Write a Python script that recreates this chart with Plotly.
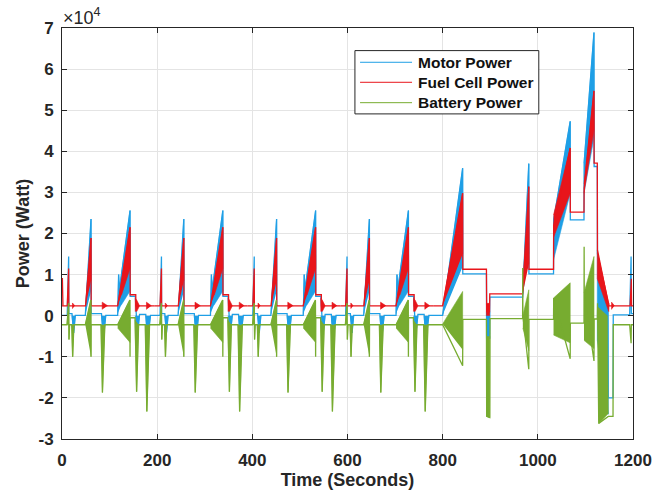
import plotly.graph_objects as go

# ---------------- data ----------------
# times in seconds, powers in units of 1e4 W (axis shows x10^4)
UNIT = 1e4
X_TICKS = [0, 200, 400, 600, 800, 1000, 1200]
Y_TICKS = [-3, -2, -1, 0, 1, 2, 3, 4, 5, 6, 7]
ECE_STARTS = [0, 195, 390, 585]          # four repeated urban cycles

# ----- one urban cycle (relative time) -----
ECE_MOTOR_T = [0, 11, 14, 14.3, 21, 24.5, 28, 49, 61, 61.3, 83, 87, 92, 117, 119, 120.5, 143, 143.3, 154, 158.5, 163, 176, 180, 186, 195]
ECE_MOTOR_P = [0.01, 0.01, 1.44, 0.05, 0.05, -0.42, 0.01, 0.01, 2.35, 0.05, 0.05, -0.55, 0.01, 0.01, 1.0, 0.6, 2.56, 0.47, 0.47, -0.47, 0.03, 0.03, -0.59, 0.01, 0.01]
ECE_MOTOR_FILL_T = [49.5, 61, 61, None, 117, 119, 121, 143, 143, 124, None, 21, 24.5, 28, None, 83, 87, 92, None, 154, 158.5, 163, None, 176, 180, 186]
ECE_MOTOR_FILL_P = [0.05, 2.35, 0.6, None, 0.05, 1.0, 0.7, 2.56, 0.6, 0.25, None, 0.0, -0.42, 0.0, None, 0.0, -0.55, 0.0, None, 0.0, -0.47, 0.0, None, 0.0, -0.59, 0.0]

ECE_FC_T = [0, 11, 14, 14.3, 49.5, 61, 61.3, 117, 143, 143.3, 155, 155.3, 195]
ECE_FC_P = [0.24, 0.24, 1.15, 0.24, 0.24, 1.89, 0.24, 0.24, 2.15, 0.51, 0.51, 0.24, 0.24]
ECE_FC_FILL_T = [49.5, 61, 61, None, 117, 143, 143, 125, None, 22, 22, 27, None, 84.5, 84.5, 96, None, 154, 154, 157, 163, 157, None, 177.5, 177.5, 188]
ECE_FC_FILL_P = [0.24, 1.89, 0.85, None, 0.24, 2.15, 1.15, 0.5, None, 0.17, 0.31, 0.24, None, 0.15, 0.33, 0.24, None, 0.1, 0.42, 0.38, 0.24, 0.1, None, 0.15, 0.33, 0.24]
FC_START_T = [0, 0.8, 2.0]
FC_START_P = [0.9, 0.9, 0.24]

ECE_BAT_T = [0, 10.5, 13.9, 14.7, 16, 20.5, 22.4, 25, 49, 60.5, 61, 61.3, 82, 85, 90, 117, 142.5, 143, 143.3, 153.5, 156.8, 161, 175, 178.3, 184, 195]
ECE_BAT_P = [-0.22, -0.22, 0.3, -0.58, -0.22, -0.22, -1.0, -0.22, -0.22, 0.38, -1.0, -0.22, -0.22, -1.87, -0.22, -0.22, 0.38, -1.0, -0.05, -0.05, -1.85, -0.22, -0.22, -2.33, -0.22, -0.22]
ECE_BAT_FILL_T = [10.5, 13.9, 14.7, 16, None, 20.5, 22.4, 25, None, 49, 60.5, 61, 61, None, 82, 85, 90, None, 117, 142.5, 143, 143, 117, None, 153.5, 156.8, 161, None, 175, 178.3, 184]
ECE_BAT_FILL_P = [-0.22, 0.3, -0.58, -0.22, None, -0.22, -1.0, -0.22, None, -0.22, 0.38, 0.38, -1.0, None, -0.22, -1.87, -0.22, None, -0.22, 0.38, 0.38, -0.65, -0.3, None, -0.1, -1.85, -0.22, None, -0.22, -2.33, -0.22]

# ----- extra-urban part (absolute time) -----
EUDC_MOTOR_T = [780, 800, 842, 842.3, 892, 892.5, 898.5, 899, 968, 981, 981.3, 1033, 1033.3, 1068, 1068.3, 1097, 1097.3, 1118, 1118.3, 1125, 1125.3, 1147, 1148, 1158, 1158.5, 1193, 1196, 1196.5, 1200]
EUDC_MOTOR_P = [0.01, 0.01, 3.59, 1.02, 1.02, -0.55, -0.55, 0.45, 0.45, 3.7, 1.02, 1.02, 2.33, 4.73, 2.33, 2.33, 3.71, 6.89, 3.63, 3.63, 1.5, 0.3, -2.0, -2.0, 0.02, 0.02, 1.44, 0.05, 0.05]
EUDC_MOTOR_FILL_T = [800, 842, 842, None, 892, 892, 899, 899, None, 968, 981, 981, None, 1033, 1068, 1068, 1033, None, 1097, 1118, 1118, 1097, None, 1125, 1125, 1148, 1148]
EUDC_MOTOR_FILL_P = [0.02, 3.59, 1.2, None, 0.1, -0.55, -0.55, 0.1, None, 0.45, 3.7, 1.5, None, 2.33, 4.73, 2.98, 1.36, None, 3.71, 6.89, 4.33, 2.98, None, 1.6, -0.6, -2.4, 0.3]

EUDC_FC_T = [780, 800, 842, 842.3, 892, 892.5, 898.5, 899, 968, 981, 981.3, 1033, 1033.3, 1068, 1068.3, 1097, 1097.3, 1118, 1118.3, 1125, 1125.3, 1149, 1194, 1196.5, 1197, 1200]
EUDC_FC_P = [0.24, 0.24, 2.98, 1.13, 1.13, 0.1, 0.1, 0.53, 0.53, 3.14, 1.13, 1.13, 2.2, 4.08, 2.52, 2.52, 3.1, 5.47, 3.71, 3.71, 1.6, 0.24, 0.24, 0.9, 0.24, 0.24]
EUDC_FC_FILL_T = [800, 842, 842, None, 892, 892, 898.5, 898.5, None, 968, 981, 981, None, 1033, 1068, 1068, 1033, None, 1097, 1118, 1118, 1097, None, 1125, 1125, 1149, 1150, None, 1155, 1155, 1161]
EUDC_FC_FILL_P = [0.24, 2.98, 1.5, None, 0.0, 0.3, 0.3, 0.0, None, 0.53, 3.14, 1.25, None, 2.45, 4.08, 2.98, 1.9, None, 3.2, 5.47, 4.52, 2.98, None, 1.6, 0.9, 0.1, 0.3, None, 0.15, 0.33, 0.24]

EUDC_BAT_T = [780, 800, 842, 842.3, 892, 892.5, 899, 899.5, 968, 968.3, 968.6, 981, 981.3, 1033, 1033.3, 1068, 1068.3, 1097, 1097.3, 1097.6, 1118, 1118.3, 1125, 1125.5, 1128, 1148, 1158, 1158.5, 1193, 1196, 1196.5, 1200]
EUDC_BAT_P = [-0.22, -0.22, -1.22, -0.09, -0.09, -2.45, -2.48, -0.07, -0.07, 1.16, 0.0, -1.3, -0.09, -0.09, 0.43, -1.05, -0.18, -0.18, 1.68, 0.55, -1.1, -0.08, -0.08, 0.3, -2.62, -2.45, -2.45, -0.22, -0.22, -0.67, -0.22, -0.22]
EUDC_BAT_FILL_T = [800, 842, 842, None, 892.5, 892.5, 899, 899, None, 968.5, 981, 981, 968.5, None, 1033, 1068, 1068, 1033, None, 1097, 1118, 1118, 1097, None, 1125.5, 1146, 1148, 1128]
EUDC_BAT_FILL_P = [-0.2, 0.59, -0.83, None, -0.5, -2.45, -2.48, -0.5, None, 0.0, 0.63, -0.85, -0.3, None, 0.43, 0.8, -0.66, -0.47, None, 0.55, 1.44, -0.8, -0.6, None, 0.22, 0.0, -2.38, -2.62]

NAMES = ["Motor Power", "Fuel Cell Power", "Battery Power"]
COLORS = ["#1f9fe6", "#e8151b", "#77ac30"]


def scale(v):
    return None if v is None else v * UNIT


def build(tpl_t, tpl_p, eudc_t, eudc_p, gaps, pre_t=None, pre_p=None):
    xs, ys = [], []
    if pre_t:
        xs += list(pre_t)
        ys += [scale(v) for v in pre_p]
    for k, s in enumerate(ECE_STARTS):
        if gaps and (k or pre_t):
            xs.append(None)
            ys.append(None)
        xs += [None if t is None else t + s for t in tpl_t]
        ys += [scale(v) for v in tpl_p]
    if gaps:
        xs.append(None)
        ys.append(None)
    xs += list(eudc_t)
    ys += [scale(v) for v in eudc_p]
    return xs, ys


series = [
    (build(ECE_MOTOR_FILL_T, ECE_MOTOR_FILL_P, EUDC_MOTOR_FILL_T, EUDC_MOTOR_FILL_P, True),
     build(ECE_MOTOR_T, ECE_MOTOR_P, EUDC_MOTOR_T, EUDC_MOTOR_P, False)),
    (build(ECE_FC_FILL_T, ECE_FC_FILL_P, EUDC_FC_FILL_T, EUDC_FC_FILL_P, True),
     build(ECE_FC_T, ECE_FC_P, EUDC_FC_T, EUDC_FC_P, True, FC_START_T, FC_START_P)),
    (build(ECE_BAT_FILL_T, ECE_BAT_FILL_P, EUDC_BAT_FILL_T, EUDC_BAT_FILL_P, True),
     build(ECE_BAT_T, ECE_BAT_P, EUDC_BAT_T, EUDC_BAT_P, False)),
]

fig = go.Figure()
for (fill, line), name, col in zip(series, NAMES, COLORS):
    fig.add_trace(go.Scatter(x=fill[0], y=fill[1], mode="lines", fill="toself",
                             fillcolor=col, line=dict(color=col, width=0.6),
                             showlegend=False, hoverinfo="skip"))
    fig.add_trace(go.Scatter(x=line[0], y=line[1], mode="lines", name=name,
                             line=dict(color=col, width=1.3), showlegend=False,
                             connectgaps=False))

# ----- legend drawn as box + sample lines + text (paper coordinates) -----
LEG_X0, LEG_X1, LEG_Y0, LEG_Y1 = 0.513, 0.835, 0.791, 0.945
LEG_ROWS = [0.9166, 0.8679, 0.8183]
LEG_LINE_X = [0.522, 0.613]
LEG_TEXT_X = 0.620

shapes = [dict(type="rect", xref="paper", yref="paper", x0=LEG_X0, x1=LEG_X1,
               y0=LEG_Y0, y1=LEG_Y1, line=dict(color="#262626", width=1),
               fillcolor="white", layer="above")]
annotations = []
for name, col, yr in zip(NAMES, COLORS, LEG_ROWS):
    shapes.append(dict(type="line", xref="paper", yref="paper", x0=LEG_LINE_X[0],
                       x1=LEG_LINE_X[1], y0=yr, y1=yr, line=dict(color=col, width=1),
                       layer="above"))
    annotations.append(dict(text=name, xref="paper", yref="paper", x=LEG_TEXT_X, y=yr,
                            xanchor="left", yanchor="middle", showarrow=False,
                            font=dict(size=15.5, weight="bold", color="#111111")))
annotations.append(dict(text="\u00d710<sup>4</sup>", xref="paper", yref="paper",
                        x=-0.002, y=1.0, xanchor="left", yanchor="bottom", showarrow=False,
                        font=dict(size=18, color="#262626"), yshift=-2))

axis_common = dict(
    ticks="inside", ticklen=5, tickcolor="#262626", showline=True,
    linecolor="#262626", linewidth=1, mirror="ticks", showgrid=True,
    gridcolor="#e4e4e4", gridwidth=1, zeroline=False, automargin=False,
    tickfont=dict(size=17, weight="bold", color="#262626"),
)

fig.update_layout(
    width=654, height=490,
    margin=dict(l=62, r=21, t=28, b=51),
    paper_bgcolor="white", plot_bgcolor="white",
    font=dict(family="Arial, 'Liberation Sans', sans-serif", color="#262626"),
    showlegend=False,
    xaxis=dict(range=[0, 1200], tickvals=X_TICKS, ticklabelstandoff=6,
               title=dict(text="Time (Seconds)", font=dict(size=18, weight="bold", color="#262626"), standoff=6),
               **axis_common),
    yaxis=dict(range=[-3 * UNIT, 7 * UNIT], tickvals=[v * UNIT for v in Y_TICKS],
               ticktext=[str(v) for v in Y_TICKS], ticklabelstandoff=4,
               title=dict(text="Power (Watt)", font=dict(size=18, weight="bold", color="#262626"), standoff=4),
               **axis_common),
    shapes=shapes,
    annotations=annotations,
)

fig.write_html("out.html", config={"displayModeBar": False},
               post_script="document.body.style.margin='0';document.body.style.overflow='hidden';")
